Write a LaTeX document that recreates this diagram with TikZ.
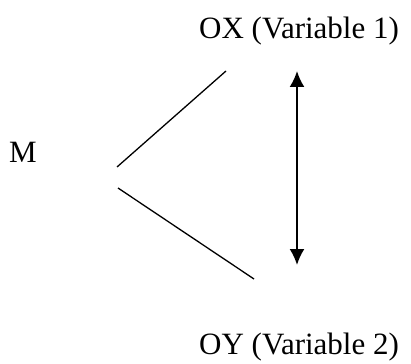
\documentclass[tikz,border=0pt]{standalone}
\usepackage{fontspec}
\setmainfont{Liberation Serif}
\usetikzlibrary{arrows.meta}

\begin{document}
\begin{tikzpicture}[x=1pt,y=-1pt,>={Latex[length=16pt,width=15pt]},
    lbl/.style={anchor=base west,inner sep=0pt,font=\fontsize{31}{37}\selectfont},
    link/.style={line width=1.3pt},
    dual/.style={<->,line width=2pt}]
  \useasboundingbox (0,0) rectangle (411,363);
  \node[lbl] (ox) at (199,39) {OX (Variable 1)};
  \node[lbl] (m) at (9,162) {M};
  \node[lbl] (oy) at (199,354) {OY (Variable 2)};
  % free ends of the two links
  \coordinate (m1) at (117,167);
  \coordinate (x1) at (226,71);
  \coordinate (m2) at (118,188);
  \coordinate (y1) at (254,279);
  \coordinate (a1) at (297,71);
  \coordinate (a2) at (297,265);
  \draw[link] (m1) -- (x1);
  \draw[link] (m2) -- (y1);
  \draw[dual] (a1) -- (a2);
\end{tikzpicture}
\end{document}
